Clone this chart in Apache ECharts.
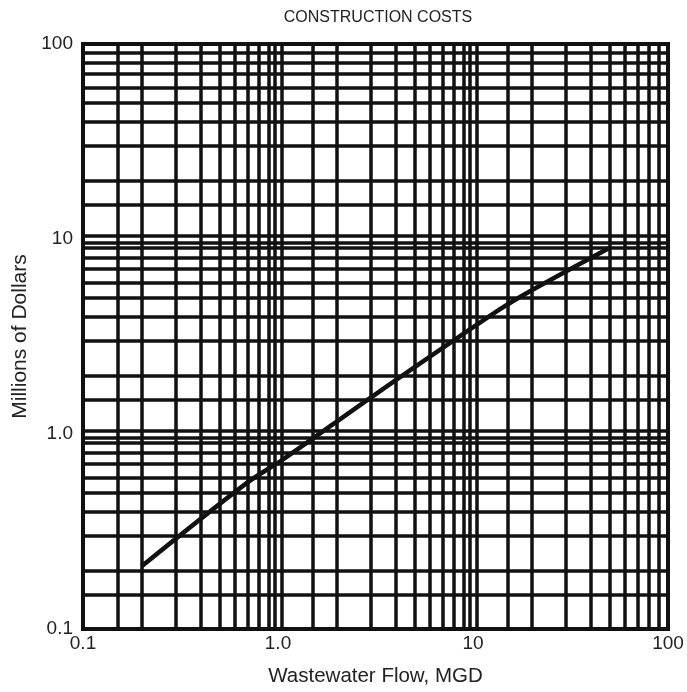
<!DOCTYPE html>
<html>
<head>
<meta charset="utf-8">
<script src="https://cdn.jsdelivr.net/npm/echarts@6/dist/echarts.min.js"></script>
<style>
  html, body { margin: 0; padding: 0; background: #fff; }
  #main { width: 687px; height: 692px; }
</style>
</head>
<body>
<div id="main"></div>
<script>
// curve (flow in MGD, cost in millions of dollars)
var flow = [0.2, 0.69, 1.06, 3.08, 13.7, 19.6, 50];
var cost = [0.21, 0.56, 0.74, 1.57, 4.35, 5.4, 9.0];

// log paper rulings
var decades = [0.1, 1, 10];
var steps = [1.5, 2, 3, 4, 5, 6, 7, 8, 9];
var heavyLines = [1, 10];
var xTickLabels = ['0.1', '1.0', '10', '100'];
var yTickLabels = ['0.1', '1.0', '10', '100'];

var rulings = [];
decades.forEach(function (d) {
    steps.forEach(function (s) { rulings.push(d * s); });
});
// decade rulings are printed as double lines
var doubled = [];
heavyLines.forEach(function (v) {
    doubled.push(v / 1.04);
    doubled.push(v * 1.04);
});
var allLines = rulings.concat(doubled);

var myChart = echarts.init(document.getElementById('main'));

var lineStyle = { type: 'solid', color: '#111', width: 3.5 };
var markData = [];
allLines.forEach(function (v) { markData.push({ xAxis: v }); });
allLines.forEach(function (v) { markData.push({ yAxis: v }); });

function tickName(list) {
    return function (v) {
        var k = Math.round(Math.log10(v)) + 1;
        return list[k] || '';
    };
}

var tickFont = { fontFamily: 'Liberation Sans', fontSize: 19, color: '#222' };

var option = {
    animation: false,
    backgroundColor: '#fff',
    title: {
        text: 'CONSTRUCTION COSTS',
        left: 373,
        top: 5,
        textAlign: 'center',
        textStyle: { fontFamily: 'Liberation Sans', fontSize: 16, fontWeight: 'normal', color: '#222' }
    },
    grid: {
        left: 83, right: 19, top: 44, bottom: 62,
        show: true,
        borderWidth: 4,
        borderColor: '#111'
    },
    xAxis: {
        type: 'log',
        logBase: 10,
        min: 0.1,
        max: 100,
        interval: 1,
        name: 'Wastewater Flow, MGD',
        nameLocation: 'middle',
        nameGap: 37,
        nameTextStyle: { fontFamily: 'Liberation Sans', fontSize: 20.5, color: '#222' },
        axisLine: { show: false },
        axisTick: { show: false },
        splitLine: { show: false },
        minorTick: { show: false },
        axisLabel: Object.assign({ margin: 5, formatter: tickName(xTickLabels) }, tickFont)
    },
    yAxis: {
        type: 'log',
        logBase: 10,
        min: 0.1,
        max: 100,
        interval: 1,
        name: 'Millions of Dollars',
        nameLocation: 'middle',
        nameGap: 45,
        nameTextStyle: { fontFamily: 'Liberation Sans', fontSize: 21, color: '#222' },
        axisLine: { show: false },
        axisTick: { show: false },
        splitLine: { show: false },
        minorTick: { show: false },
        axisLabel: Object.assign({ margin: 10, formatter: tickName(yTickLabels) }, tickFont)
    },
    series: [
        {
            name: 'grid',
            type: 'line',
            data: [],
            z: 1,
            silent: true,
            markLine: {
                silent: true,
                symbol: 'none',
                label: { show: false },
                lineStyle: lineStyle,
                emphasis: { disabled: true },
                data: markData
            }
        },
        {
            name: 'cost',
            type: 'line',
            z: 5,
            smooth: 0.3,
            showSymbol: false,
            lineStyle: { color: '#111', width: 4.5 },
            data: flow.map(function (x, i) { return [x, cost[i]]; })
        }
    ]
};

myChart.setOption(option);
</script>
</body>
</html>
